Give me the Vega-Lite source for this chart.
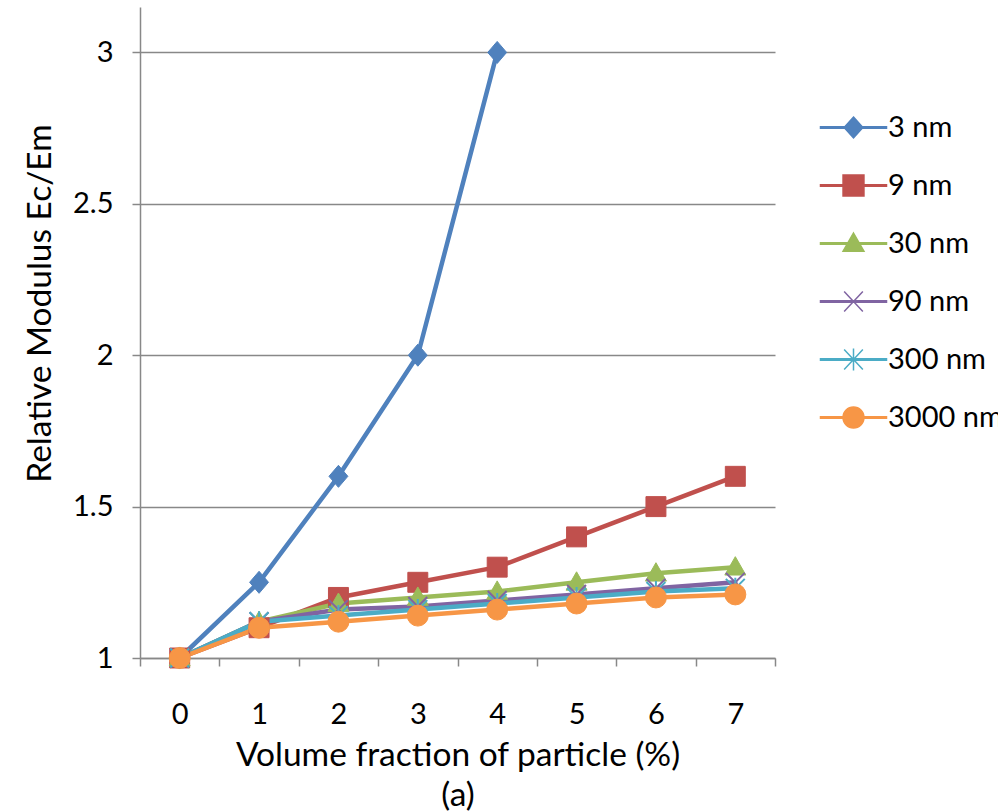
{
  "$schema": "https://vega.github.io/schema/vega-lite/v6.json",
  "width": 635,
  "height": 651,
  "autosize": {"type": "none"},
  "padding": {"left": 140, "top": 7, "right": 223, "bottom": 153},
  "background": "white",
  "data": {"values": [
    {"x": 0, "y": 1.0, "s": "3 nm"},
    {"x": 1, "y": 1.25, "s": "3 nm"},
    {"x": 2, "y": 1.6, "s": "3 nm"},
    {"x": 3, "y": 2.0, "s": "3 nm"},
    {"x": 4, "y": 3.0, "s": "3 nm"},
    {"x": 0, "y": 1.0, "s": "9 nm"},
    {"x": 1, "y": 1.1, "s": "9 nm"},
    {"x": 2, "y": 1.2, "s": "9 nm"},
    {"x": 3, "y": 1.25, "s": "9 nm"},
    {"x": 4, "y": 1.3, "s": "9 nm"},
    {"x": 5, "y": 1.4, "s": "9 nm"},
    {"x": 6, "y": 1.5, "s": "9 nm"},
    {"x": 7, "y": 1.6, "s": "9 nm"},
    {"x": 0, "y": 1.0, "s": "30 nm"},
    {"x": 1, "y": 1.12, "s": "30 nm"},
    {"x": 2, "y": 1.18, "s": "30 nm"},
    {"x": 3, "y": 1.2, "s": "30 nm"},
    {"x": 4, "y": 1.22, "s": "30 nm"},
    {"x": 5, "y": 1.25, "s": "30 nm"},
    {"x": 6, "y": 1.28, "s": "30 nm"},
    {"x": 7, "y": 1.3, "s": "30 nm"},
    {"x": 0, "y": 1.0, "s": "90 nm"},
    {"x": 1, "y": 1.12, "s": "90 nm"},
    {"x": 2, "y": 1.16, "s": "90 nm"},
    {"x": 3, "y": 1.17, "s": "90 nm"},
    {"x": 4, "y": 1.19, "s": "90 nm"},
    {"x": 5, "y": 1.21, "s": "90 nm"},
    {"x": 6, "y": 1.23, "s": "90 nm"},
    {"x": 7, "y": 1.25, "s": "90 nm"},
    {"x": 0, "y": 1.0, "s": "300 nm"},
    {"x": 1, "y": 1.12, "s": "300 nm"},
    {"x": 2, "y": 1.14, "s": "300 nm"},
    {"x": 3, "y": 1.16, "s": "300 nm"},
    {"x": 4, "y": 1.18, "s": "300 nm"},
    {"x": 5, "y": 1.2, "s": "300 nm"},
    {"x": 6, "y": 1.22, "s": "300 nm"},
    {"x": 7, "y": 1.23, "s": "300 nm"},
    {"x": 0, "y": 1.0, "s": "3000 nm"},
    {"x": 1, "y": 1.1, "s": "3000 nm"},
    {"x": 2, "y": 1.12, "s": "3000 nm"},
    {"x": 3, "y": 1.14, "s": "3000 nm"},
    {"x": 4, "y": 1.16, "s": "3000 nm"},
    {"x": 5, "y": 1.18, "s": "3000 nm"},
    {"x": 6, "y": 1.2, "s": "3000 nm"},
    {"x": 7, "y": 1.21, "s": "3000 nm"}
  ]},
  "config": {
    "view": {"stroke": null},
    "font": "Lato",
    "axis": {
      "labelFont": "Lato", "titleFont": "Lato",
      "labelColor": "#000", "titleColor": "#000",
      "domainColor": "#888", "tickColor": "#888", "gridColor": "#888",
      "domainWidth": 1.5, "tickWidth": 1.5, "gridWidth": 1.5,
      "labelFontWeight": "normal", "titleFontWeight": "normal"
    },
    "legend": {
      "labelFont": "Lato", "labelFontSize": 29, "labelColor": "#000",
      "symbolSize": 484, "symbolStrokeWidth": 1.5, "symbolOpacity": 1,
      "labelOffset": 20, "rowPadding": 28, "padding": 0, "labelLimit": 300
    }
  },
  "encoding": {
    "x": {
      "field": "x", "type": "ordinal", "bandPosition": 0.5,
      "scale": {"type": "band", "paddingInner": 0, "paddingOuter": 0},
      "axis": {
        "tickBand": "extent", "labelAngle": 0, "labelFontSize": 29,
        "tickSize": 8, "labelPadding": 34,
        "title": ["Volume fraction of particle (%)", "(a)"],
        "titleFontSize": 33.5, "titleY": 107, "titleBaseline": "alphabetic",
        "titleLineHeight": 40
      }
    },
    "y": {
      "field": "y", "type": "quantitative",
      "scale": {"domain": [1, 3.15], "nice": false, "zero": false},
      "axis": {
        "values": [1, 1.5, 2, 2.5, 3], "format": "~g", "grid": true,
        "labelFontSize": 29, "tickSize": 8, "labelPadding": 19,
        "title": "Relative Modulus Ec/Em", "titleFontSize": 33.5,
        "titleX": -100, "titleY": 296, "titleAngle": -90,
        "titleAlign": "center", "titleBaseline": "middle"
      }
    }
  },
  "layer": [
    {
      "mark": {"type": "line", "strokeWidth": 4.5, "strokeJoin": "round", "strokeCap": "round"},
      "encoding": {
        "color": {
          "field": "s", "type": "nominal",
          "scale": {"range": ["#4F81BD", "#9BBB59", "#4BACC6", "#F79646", "#C0504D", "#8064A2"]},
          "legend": null
        }
      }
    },
    {
      "transform": [{"filter": "datum.s === '3 nm'"}],
      "mark": {"type": "point", "filled": true, "opacity": 1, "size": 441,
               "shape": "M0,-1.05L0.9,0L0,1.05L-0.9,0Z",
               "color": "#4F81BD", "stroke": "#4F81BD", "strokeWidth": 1}
    },
    {
      "transform": [{"filter": "datum.s === '9 nm'"}],
      "mark": {"type": "point", "filled": true, "opacity": 1, "size": 441,
               "shape": "M-0.95,-0.95H0.95V0.95H-0.95Z",
               "color": "#C0504D", "stroke": "#C0504D", "strokeWidth": 1}
    },
    {
      "transform": [{"filter": "datum.s === '30 nm'"}],
      "mark": {"type": "point", "filled": true, "opacity": 1, "size": 441,
               "shape": "M0,-1L1,0.75H-1Z",
               "color": "#9BBB59", "stroke": "#9BBB59", "strokeWidth": 1}
    },
    {
      "transform": [{"filter": "datum.s === '90 nm'"}],
      "mark": {"type": "point", "filled": false, "opacity": 1, "size": 441,
               "shape": "M-0.9,-0.9L0.9,0.9M-0.9,0.9L0.9,-0.9",
               "color": "#8064A2", "stroke": "#8064A2", "strokeWidth": 2}
    },
    {
      "transform": [{"filter": "datum.s === '300 nm'"}],
      "mark": {"type": "point", "filled": false, "opacity": 1, "size": 441,
               "shape": "M-0.9,-0.9L0.9,0.9M-0.9,0.9L0.9,-0.9M0,-1L0,1",
               "color": "#4BACC6", "stroke": "#4BACC6", "strokeWidth": 2}
    },
    {
      "transform": [{"filter": "datum.s === '3000 nm'"}],
      "mark": {"type": "point", "filled": true, "opacity": 1, "size": 441,
               "shape": "circle",
               "color": "#F79646", "stroke": "#F79646", "strokeWidth": 1}
    },
    {
      "mark": {"type": "point", "filled": true, "opacity": 0},
      "encoding": {
        "fill": {
          "field": "s", "type": "nominal",
          "scale": {"domain": ["3 nm", "9 nm", "30 nm", "90 nm", "300 nm", "3000 nm"],
                    "range": ["#4F81BD", "#C0504D", "#9BBB59", "#8064A2", "#4BACC6", "#F79646"]},
          "legend": {"title": null, "orient": "none", "legendX": 699, "legendY": 106}
        },
        "stroke": {
          "field": "s", "type": "nominal",
          "scale": {"domain": ["3 nm", "9 nm", "30 nm", "90 nm", "300 nm", "3000 nm"],
                    "range": ["#4F81BD", "#C0504D", "#9BBB59", "#8064A2", "#4BACC6", "#F79646"]},
          "legend": {"title": null, "orient": "none", "legendX": 699, "legendY": 106}
        },
        "shape": {
          "field": "s", "type": "nominal",
          "scale": {"domain": ["3 nm", "9 nm", "30 nm", "90 nm", "300 nm", "3000 nm"],
                    "range": [
                      "M-3,-0.07H3V0.07H-3ZM0,-0.95L0.85,0L0,0.95L-0.85,0Z",
                      "M-3,-0.07H3V0.07H-3ZM-0.95,-0.95H0.95V0.95H-0.95Z",
                      "M-3,-0.07H3V0.07H-3ZM0,-0.95L0.95,0.7H-0.95Z",
                      "M-3,-0.07H3V0.07H-3ZM-0.85,-0.9L0.85,0.9M-0.85,0.9L0.85,-0.9",
                      "M-3,-0.07H3V0.07H-3ZM-0.85,-0.9L0.85,0.9M-0.85,0.9L0.85,-0.9M0,-1L0,1",
                      "M-3,-0.07H3V0.07H-3ZM-0.95,0A0.95,0.95 0 1,1 0.95,0A0.95,0.95 0 1,1 -0.95,0Z"
                    ]},
          "legend": {"title": null, "orient": "none", "legendX": 699, "legendY": 106}
        }
      }
    }
  ]
}
